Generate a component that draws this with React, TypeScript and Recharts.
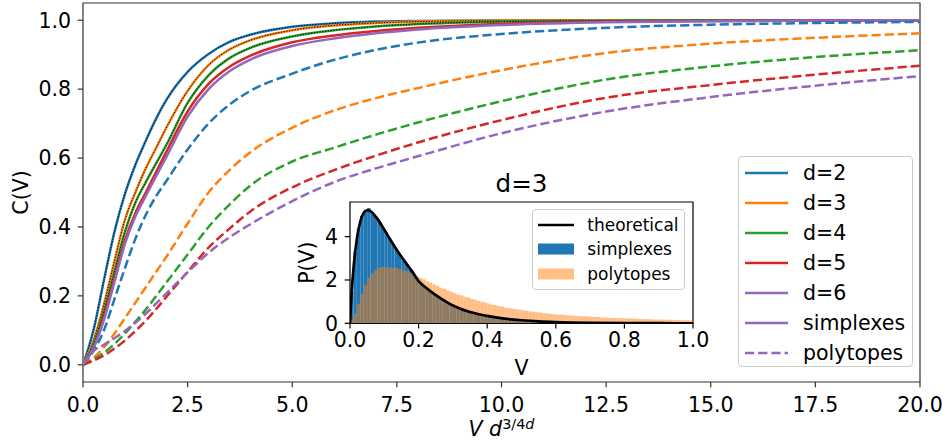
import React from 'react';
import { LineChart, Line, XAxis, YAxis, ReferenceArea, ComposedChart, Bar } from 'recharts';

const FONT = "'DejaVu Sans', sans-serif";
const AX = '#333333';
const FS = 20.5;

// ---------- main chart data ----------
const xs = [0, 0.25, 0.5, 0.75, 1, 1.25, 1.5, 1.75, 2, 2.5, 3, 3.5, 4, 5, 6, 7, 8, 10, 12.5, 15, 17.5, 20];
const dims = [2, 3, 4, 5, 6];
const colors = ['#1f77b4', '#ff7f0e', '#2ca02c', '#d62728', '#9467bd'];
const dLabels = ['d=2', 'd=3', 'd=4', 'd=5', 'd=6'];

const simplexD2 = [0, 0.1, 0.245, 0.385, 0.495, 0.58, 0.65, 0.715, 0.77, 0.85, 0.902, 0.937, 0.958, 0.981, 0.991, 0.996, 0.998, 0.9995, 1, 1, 1, 1];
const simplexD3 = [0, 0.07, 0.175, 0.3, 0.42, 0.5, 0.57, 0.63, 0.69, 0.795, 0.87, 0.915, 0.942, 0.971, 0.985, 0.992, 0.996, 0.999, 1, 1, 1, 1];
const simplexD4 = [0, 0.06, 0.155, 0.27, 0.385, 0.47, 0.53, 0.585, 0.64, 0.76, 0.84, 0.89, 0.92, 0.953, 0.971, 0.982, 0.989, 0.996, 0.999, 1, 1, 1];
const simplexD5 = [0, 0.05, 0.14, 0.25, 0.36, 0.44, 0.5, 0.56, 0.62, 0.735, 0.815, 0.865, 0.897, 0.936, 0.956, 0.969, 0.978, 0.99, 0.996, 0.998, 0.999, 1];
const simplexD6 = [0, 0.048, 0.13, 0.24, 0.35, 0.43, 0.49, 0.548, 0.605, 0.72, 0.8, 0.852, 0.886, 0.925, 0.947, 0.962, 0.973, 0.986, 0.994, 0.997, 0.999, 1];

const polyD2 = [0, 0.04, 0.1, 0.19, 0.28, 0.365, 0.435, 0.49, 0.535, 0.625, 0.7, 0.755, 0.795, 0.845, 0.885, 0.914, 0.935, 0.96, 0.978, 0.987, 0.992, 0.995];
const polyD3 = [0, 0.02, 0.05, 0.09, 0.135, 0.18, 0.225, 0.27, 0.315, 0.41, 0.5, 0.565, 0.617, 0.688, 0.738, 0.774, 0.803, 0.855, 0.905, 0.932, 0.949, 0.962];
const polyD4 = [0, 0.015, 0.035, 0.06, 0.09, 0.125, 0.16, 0.2, 0.24, 0.32, 0.4, 0.465, 0.52, 0.59, 0.63, 0.668, 0.703, 0.765, 0.828, 0.866, 0.893, 0.913];
const polyD5 = [0, 0.012, 0.027, 0.047, 0.07, 0.098, 0.128, 0.162, 0.198, 0.27, 0.34, 0.395, 0.445, 0.515, 0.565, 0.607, 0.645, 0.71, 0.775, 0.812, 0.842, 0.868];
const polyD6 = [0, 0.04, 0.058, 0.077, 0.098, 0.122, 0.148, 0.178, 0.208, 0.268, 0.325, 0.37, 0.408, 0.475, 0.53, 0.57, 0.605, 0.672, 0.735, 0.777, 0.81, 0.838];

const simplexSeries = [simplexD2, simplexD3, simplexD4, simplexD5, simplexD6];
const polySeries = [polyD2, polyD3, polyD4, polyD5, polyD6];
const theoryDims = [2, 3, 4];

const X_TICKS = [0, 2.5, 5, 7.5, 10, 12.5, 15, 17.5, 20];
const Y_TICKS = [0, 0.2, 0.4, 0.6, 0.8, 1.0];

// ---------- inset data (d=3) ----------
const binCenters = Array.from({ length: 100 }, (_, i) => +(0.005 + i * 0.01).toFixed(3));
const simplexHist = [
  1.45, 3.3, 4.35, 4.95, 5.2, 5.32, 5.12, 4.92, 4.72, 4.44,
  4.2, 3.95, 3.66, 3.44, 3.18, 2.96, 2.74, 2.53, 2.29, 2.08,
  1.88, 1.72, 1.61, 1.47, 1.37, 1.24, 1.16, 1.04, 0.96, 0.86,
  0.8, 0.72, 0.67, 0.6, 0.56, 0.5, 0.46, 0.42, 0.39, 0.36,
  0.32, 0.3, 0.28, 0.25, 0.235, 0.215, 0.2, 0.18, 0.17, 0.155,
  0.145, 0.13, 0.125, 0.115, 0.105, 0.1, 0.09, 0.082, 0.075, 0.07,
  0.064, 0.06, 0.055, 0.05, 0.047, 0.043, 0.04, 0.037, 0.035, 0.031,
  0.029, 0.027, 0.025, 0.022, 0.021, 0.019, 0.018, 0.016, 0.015, 0.014,
  0.013, 0.012, 0.011, 0.01, 0.009, 0.008, 0.008, 0.007, 0.006, 0.006,
  0.005, 0.005, 0.004, 0.004, 0.004, 0.003, 0.003, 0.003, 0.002, 0.002,
];
const polytopeHist = [
  0.15, 0.45, 0.9, 1.35, 1.78, 2.1, 2.3, 2.46, 2.56, 2.61,
  2.59, 2.58, 2.57, 2.56, 2.51, 2.47, 2.42, 2.33, 2.27, 2.17,
  2.1, 2.03, 1.94, 1.88, 1.79, 1.73, 1.64, 1.59, 1.51, 1.47,
  1.4, 1.33, 1.29, 1.22, 1.19, 1.12, 1.09, 1.03, 0.99, 0.96,
  0.91, 0.86, 0.84, 0.79, 0.77, 0.72, 0.71, 0.67, 0.65, 0.62,
  0.6, 0.58, 0.54, 0.53, 0.51, 0.5, 0.47, 0.45, 0.44, 0.42,
  0.41, 0.39, 0.39, 0.37, 0.36, 0.35, 0.34, 0.33, 0.32, 0.31,
  0.3, 0.29, 0.29, 0.27, 0.27, 0.26, 0.25, 0.25, 0.24, 0.235,
  0.23, 0.22, 0.22, 0.21, 0.2, 0.2, 0.19, 0.19, 0.18, 0.175,
  0.17, 0.17, 0.16, 0.16, 0.15, 0.15, 0.145, 0.14, 0.14, 0.135,
];
const theoryV = [0, 0.005, 0.01, 0.02, 0.03, 0.04, 0.05, 0.06, 0.07, 0.08, 0.1, 0.12, 0.14, 0.16, 0.18, 0.2, 0.22, 0.25, 0.28, 0.3, 0.35, 0.4, 0.45, 0.5, 0.55, 0.6, 0.7, 0.8, 0.9, 1.0];
const theoryP = [0, 1.5, 2.5, 3.9, 4.7, 5.1, 5.22, 5.18, 5.02, 4.82, 4.32, 3.8, 3.3, 2.85, 2.42, 1.95, 1.66, 1.3, 1.0, 0.82, 0.52, 0.34, 0.215, 0.14, 0.09, 0.058, 0.024, 0.01, 0.004, 0.0015];
const INSET_X_TICKS = [0, 0.2, 0.4, 0.6, 0.8, 1.0];
const INSET_Y_TICKS = [0, 2, 4];

const mainData = xs.map((x, i) => {
  const row: Record<string, number> = { x };
  dims.forEach((d, k) => {
    row[`s${d}`] = simplexSeries[k][i];
    row[`p${d}`] = polySeries[k][i];
  });
  return row;
});
const histRows = binCenters.map((v, i) => ({ v, s: simplexHist[i], p: polytopeHist[i] }));
const theoryRows = theoryV.map((v, i) => ({ v, t: theoryP[i] }));

const LW = 2.5;
const DASH = '9.2 4';

const tickStyle = { fill: '#000', fontSize: FS, fontFamily: FONT };

const renderXLabel = (props: any) => {
  const vb = props.viewBox || { x: 83, y: 382, width: 837, height: 60 };
  const cx = vb.x + vb.width / 2;
  const y = vb.y + 54;
  return (
    <text x={cx} y={y} textAnchor="middle" fontSize={FS} fontFamily={FONT} fill="#000">
      <tspan fontStyle="italic">V</tspan>
      <tspan> </tspan>
      <tspan fontStyle="italic">d</tspan>
      <tspan dy={-7.5} fontSize={14.4}>3/4</tspan>
      <tspan fontSize={14.4} fontStyle="italic">d</tspan>
    </text>
  );
};

const renderYLabel = (props: any) => {
  const vb = props.viewBox || { x: 0, y: 3, width: 83, height: 379 };
  const cy = vb.y + vb.height / 2;
  return (
    <text transform={`translate(${vb.x + 28},${cy}) rotate(-90)`} textAnchor="middle" fontSize={FS} fontFamily={FONT} fill="#000">
      C(V)
    </text>
  );
};

const renderInsetXLabel = (props: any) => {
  const vb = props.viewBox || { x: 70, y: 163.3, width: 343, height: 66.7 };
  return (
    <text x={vb.x + vb.width / 2} y={vb.y + 52} textAnchor="middle" fontSize={FS} fontFamily={FONT} fill="#000">
      V
    </text>
  );
};

const renderInsetYLabel = (props: any) => {
  const vb = props.viewBox || { x: 0, y: 42, width: 70, height: 121.3 };
  const cy = vb.y + vb.height / 2;
  return (
    <text transform={`translate(${vb.x + 34},${cy}) rotate(-90)`} textAnchor="middle" fontSize={FS} fontFamily={FONT} fill="#000">
      P(V)
    </text>
  );
};

function MainChart() {
  const lines: React.ReactNode[] = [];
  dims.forEach((d, k) => {
    lines.push(
      <Line key={`s${d}`} dataKey={`s${d}`} type="monotone" stroke={colors[k]} strokeWidth={LW} dot={false} isAnimationActive={false} />
    );
    if (theoryDims.includes(d)) {
      lines.push(
        <Line key={`t${d}`} dataKey={`s${d}`} type="monotone" stroke="#000" strokeWidth={1} strokeDasharray="1.2 1.6" dot={false} isAnimationActive={false} />
      );
    }
  });
  dims.forEach((d, k) => {
    lines.push(
      <Line key={`p${d}`} dataKey={`p${d}`} type="monotone" stroke={colors[k]} strokeWidth={LW} strokeDasharray={DASH} dot={false} isAnimationActive={false} />
    );
  });
  return (
    <LineChart width={950} height={442} data={mainData} margin={{ top: 3, right: 30, bottom: 0, left: 0 }}>
      <XAxis
        dataKey="x"
        type="number"
        domain={[0, 20]}
        ticks={X_TICKS}
        interval={0}
        tickFormatter={(v: number) => v.toFixed(1)}
        height={60}
        tickSize={5.3}
        tickMargin={10}
        axisLine={false}
        tickLine={{ stroke: AX, strokeWidth: 1.2 }}
        tick={tickStyle}
        label={renderXLabel}
        allowDataOverflow
      />
      <YAxis
        type="number"
        domain={[-0.05, 1.05]}
        ticks={Y_TICKS}
        interval={0}
        tickFormatter={(v: number) => v.toFixed(1)}
        width={83}
        tickSize={5.3}
        tickMargin={6.7}
        axisLine={false}
        tickLine={{ stroke: AX, strokeWidth: 1.2 }}
        tick={tickStyle}
        label={renderYLabel}
        allowDataOverflow
      />
      {lines}
      <ReferenceArea x1={0} x2={20} y1={-0.05} y2={1.05} fill="none" fillOpacity={0} stroke={AX} strokeWidth={1.2} ifOverflow="visible" />
    </LineChart>
  );
}

function InsetChart() {
  return (
    <div style={{ position: 'absolute', left: 280, top: 160 }}>
      <ComposedChart width={440} height={230} data={histRows} margin={{ top: 42, right: 27, bottom: 0, left: 0 }}>
        <XAxis
          xAxisId="main"
          dataKey="v"
          type="number"
          domain={[0, 1]}
          ticks={INSET_X_TICKS}
          interval={0}
          tickFormatter={(v: number) => v.toFixed(1)}
          height={66.7}
          tickSize={5.3}
          tickMargin={3.9}
          axisLine={false}
          tickLine={{ stroke: '#000', strokeWidth: 1.2 }}
          tick={tickStyle}
          label={renderInsetXLabel}
          allowDataOverflow
        />
        <XAxis xAxisId="poly" dataKey="v" type="number" domain={[0, 1]} hide allowDataOverflow />
        <XAxis xAxisId="theory" dataKey="v" type="number" domain={[0, 1]} hide allowDataOverflow />
        <YAxis
          type="number"
          domain={[0, 5.6]}
          ticks={INSET_Y_TICKS}
          interval={0}
          width={70}
          tickSize={5.3}
          tickMargin={6.7}
          axisLine={false}
          tickLine={{ stroke: '#000', strokeWidth: 1.2 }}
          tick={tickStyle}
          label={renderInsetYLabel}
          allowDataOverflow
        />
        <ReferenceArea xAxisId="main" x1={0} x2={1} y1={0} y2={5.6} fill="#ffffff" fillOpacity={1} stroke="none" ifOverflow="visible" />
        <Bar xAxisId="main" dataKey="s" fill="#1f77b4" barSize={3.42} isAnimationActive={false} />
        <Bar xAxisId="poly" dataKey="p" fill="#ff7f0e" fillOpacity={0.5} barSize={3.42} isAnimationActive={false} />
        <Line xAxisId="theory" data={theoryRows} dataKey="t" type="monotone" stroke="#000" strokeWidth={2.7} dot={false} isAnimationActive={false} />
        <ReferenceArea xAxisId="main" x1={0} x2={1} y1={0} y2={5.6} fill="none" fillOpacity={0} stroke="#000" strokeWidth={1.2} ifOverflow="visible" />
      </ComposedChart>
    </div>
  );
}

function MainLegend() {
  const items = [
    ...dLabels.map((label, k) => ({ label, color: colors[k], dash: undefined as string | undefined })),
    { label: 'simplexes', color: colors[4], dash: undefined as string | undefined },
    { label: 'polytopes', color: colors[4], dash: DASH },
  ];
  return (
    <div
      style={{
        position: 'absolute', left: 738, top: 155.5, width: 175, height: 211.5,
        border: '1px solid #cccccc', borderRadius: 4, background: 'rgba(255,255,255,0.8)', boxSizing: 'border-box',
      }}
    >
      {items.map((it, i) => (
        <div key={it.label} style={{ position: 'absolute', left: 0, top: 16.3 + i * 30 - 12, height: 24, width: '100%' }}>
          <svg width={43} height={24} style={{ position: 'absolute', left: 6, top: 0 }}>
            <line x1={0} y1={12} x2={43} y2={12} stroke={it.color} strokeWidth={LW} strokeDasharray={it.dash} />
          </svg>
          <span style={{ position: 'absolute', left: 64, top: 0, lineHeight: '24px', fontSize: FS, fontFamily: FONT, color: '#000', whiteSpace: 'nowrap' }}>
            {it.label}
          </span>
        </div>
      ))}
    </div>
  );
}

function InsetLegend() {
  const items = [
    { label: 'theoretical', kind: 'line', color: '#000' },
    { label: 'simplexes', kind: 'patch', color: '#1f77b4' },
    { label: 'polytopes', kind: 'patch', color: '#ffbf86' },
  ];
  const rows = [15, 39, 64];
  return (
    <div
      style={{
        position: 'absolute', left: 532.3, top: 209.3, width: 152.7, height: 80.7,
        border: '1px solid #cccccc', borderRadius: 4, background: 'rgba(255,255,255,0.8)', boxSizing: 'border-box',
      }}
    >
      {items.map((it, i) => (
        <div key={it.label} style={{ position: 'absolute', left: 0, top: rows[i] - 10, height: 20, width: '100%' }}>
          <svg width={36} height={20} style={{ position: 'absolute', left: 5, top: 0 }}>
            {it.kind === 'line' ? (
              <line x1={0} y1={10} x2={36} y2={10} stroke={it.color} strokeWidth={2.7} />
            ) : (
              <rect x={0} y={4.5} width={36} height={11} fill={it.color} />
            )}
          </svg>
          <span style={{ position: 'absolute', left: 54, top: 0, lineHeight: '20px', fontSize: 17, fontFamily: FONT, color: '#000', whiteSpace: 'nowrap' }}>
            {it.label}
          </span>
        </div>
      ))}
    </div>
  );
}

export default function App() {
  return (
    <div style={{ position: 'absolute', left: 0, top: 0, width: 950, height: 442, background: '#ffffff', fontFamily: FONT, overflow: 'hidden' }}>
      <MainChart />
      <InsetChart />
      <div style={{ position: 'absolute', left: 421.5, top: 168.5, width: 200, textAlign: 'center', fontSize: 24.6, lineHeight: '30px', fontFamily: FONT, color: '#000' }}>
        d=3
      </div>
      <MainLegend />
      <InsetLegend />
    </div>
  );
}
